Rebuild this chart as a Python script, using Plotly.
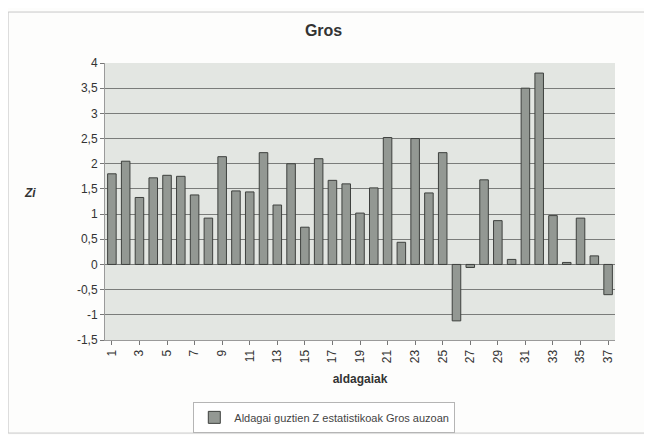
import plotly.graph_objects as go

categories = list(range(1, 38))
zi_values = [1.80, 2.05, 1.33, 1.72, 1.77, 1.75, 1.38, 0.92, 2.14, 1.46,
             1.44, 2.22, 1.18, 2.00, 0.74, 2.10, 1.67, 1.60, 1.02, 1.52,
             2.52, 0.44, 2.50, 1.42, 2.22, -1.12, -0.06, 1.68, 0.87, 0.10,
             3.50, 3.80, 0.97, 0.04, 0.92, 0.17, -0.60]
y_tickvals = [-1.5, -1, -0.5, 0, 0.5, 1, 1.5, 2, 2.5, 3, 3.5, 4]
y_ticktext = ["-1,5", "-1", "-0,5", "0", "0,5", "1", "1,5", "2", "2,5", "3", "3,5", "4"]
x_tickvals = list(range(1, 38, 2))
x_ticktext = [str(v) for v in x_tickvals]

FONT = "Liberation Sans, Arial, sans-serif"

fig = go.Figure()
fig.add_trace(go.Bar(
    x=categories, y=zi_values,
    name="Aldagai guztien Z estatistikoak Gros auzoan",
    marker=dict(color="#939893", line=dict(color="#3e403e", width=1)),
    width=0.62,
))

fig.update_layout(
    width=644, height=427,
    margin=dict(l=97, r=37, t=55, b=95, autoexpand=False),
    paper_bgcolor="#fdfdfc",
    plot_bgcolor="#e3e6e2",
    font=dict(family=FONT, size=12, color="#333333"),
    title=dict(text="<b>Gros</b>", x=0.49, xanchor="center", y=0.948, yanchor="middle",
               font=dict(family=FONT, size=16, color="#333333")),
    showlegend=True,
    legend=dict(orientation="h", x=0.43, xanchor="center",
                yref="container", y=0.005, yanchor="bottom",
                bordercolor="#b5b5b5", borderwidth=1, bgcolor="#ffffff",
                font=dict(family=FONT, size=11, color="#444444"),
                itemwidth=30),
    bargap=0.38,
)
fig.update_xaxes(
    range=[0.5, 37.5], automargin=False,
    tickmode="array", tickvals=x_tickvals, ticktext=x_ticktext,
    tickangle=-90, ticks="outside", ticklen=4, tickcolor="#777777",
    showgrid=False, showline=True, linecolor="#9a9a9a",
    tickfont=dict(family=FONT, size=12, color="#333333"),
    title=dict(text="<b>aldagaiak</b>", standoff=12,
               font=dict(family=FONT, size=12, color="#333333")),
)
fig.update_yaxes(
    range=[-1.5, 4], automargin=False,
    tickmode="array", tickvals=y_tickvals, ticktext=y_ticktext,
    ticks="outside", ticklen=4, tickcolor="#777777",
    showgrid=True, gridcolor="#7a7c7a", gridwidth=1,
    zeroline=False, showline=True, linecolor="#9a9a9a",
    tickfont=dict(family=FONT, size=12, color="#333333"),
)
fig.add_annotation(text="<b><i>Zi</i></b>", xref="paper", yref="paper",
                   x=-0.147, xanchor="center", y=0.53, showarrow=False,
                   font=dict(family=FONT, size=12, color="#333333"))
fig.add_shape(type="rect", xref="paper", yref="paper",
              x0=-0.19, x1=1.063, y0=-0.336, y1=1.184,
              line=dict(color="#c8c8c8", width=1))

fig.write_html("out.html")
